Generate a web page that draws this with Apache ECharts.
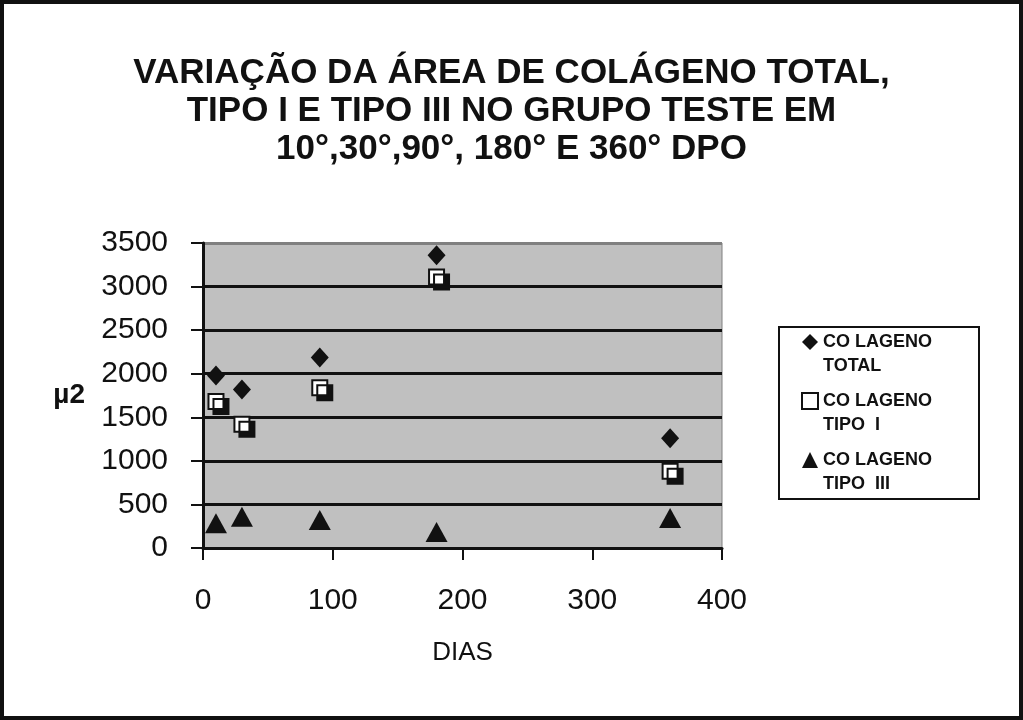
<!DOCTYPE html>
<html>
<head>
<meta charset="utf-8">
<script src="https://cdn.jsdelivr.net/npm/echarts@6/dist/echarts.min.js"></script>
<style>
html,body{margin:0;padding:0;background:#fff;}
#chart{width:1023px;height:720px;}
</style>
</head>
<body>
<div id="chart"></div>
<script>
var titleText = 'VARIAÇÃO DA ÁREA DE COLÁGENO TOTAL,\nTIPO I E TIPO III NO GRUPO TESTE EM\n10°,30°,90°, 180° E 360° DPO';
var seriesNames = ['CO LAGENO\nTOTAL', 'CO LAGENO\nTIPO  I', 'CO LAGENO\nTIPO  III'];
var dias = [10, 30, 90, 180, 360];
var colagenoTotal = [1980, 1820, 2185, 3360, 1260];
var colagenoTipoI = [1680, 1420, 1840, 3110, 880];
var colagenoTipoIII = [285, 360, 320, 185, 345];
var xTicks = [0, 100, 200, 300, 400];
var yTicks = [0, 500, 1000, 1500, 2000, 2500, 3000, 3500];

function pairs(vals){ return dias.map(function(d,i){ return [d, vals[i]]; }); }

var chart = echarts.init(document.getElementById('chart'));
var FONT = 'Liberation Sans, Arial, sans-serif';
chart.setOption({
  backgroundColor: '#ffffff',
  animation: false,
  title: {
    text: titleText,
    left: 'center',
    top: 49,
    textStyle: {fontFamily: FONT, fontWeight: 'bold', fontSize: 35, lineHeight: 38, color: '#111'}
  },
  graphic: [{
    type: 'rect', silent: true, z: 100,
    shape: {x: 2, y: 2, width: 1019, height: 716},
    style: {fill: null, stroke: '#111', lineWidth: 4}
  }, {
    type: 'rect', silent: true, z: 0,
    shape: {x: 779, y: 327, width: 200, height: 172},
    style: {fill: '#fff', stroke: '#111', lineWidth: 2}
  }],
  legend: {
    orient: 'vertical',
    left: 801, top: 309,
    padding: 0,
    itemWidth: 16, itemHeight: 16,
    itemGap: -7,
    formatter: function(name){
      var parts = name.split('\n');
      return '{s| }\n{a|' + parts[0] + '}\n{a|' + parts[1] + '}';
    },
    textStyle: {fontFamily: FONT, fontWeight: 'bold', fontSize: 18, color: '#111',
      rich: {s: {fontSize: 18, lineHeight: 24}, a: {fontFamily: FONT, fontWeight: 'bold', fontSize: 18, lineHeight: 24, color: '#111'}}},
    data: seriesNames
  },
  grid: {left: 203, right: 301, top: 243, bottom: 172, show: true, backgroundColor: '#c0c0c0', borderColor: '#808080', borderWidth: 1},
  xAxis: {
    type: 'value', min: 0, max: 400, interval: 100,
    name: 'DIAS', nameLocation: 'middle', nameGap: 92,
    nameTextStyle: {fontFamily: FONT, fontSize: 26, color: '#111'},
    axisLine: {show: true, onZero: false, lineStyle: {color: '#111', width: 3}},
    axisTick: {show: true, length: 12, lineStyle: {color: '#111', width: 2}},
    axisLabel: {fontFamily: FONT, fontSize: 30, color: '#111', margin: 38},
    splitLine: {show: false}
  },
  yAxis: {
    type: 'value', min: 0, max: 3500, interval: 500,
    name: 'µ2', nameLocation: 'middle', nameGap: 118, nameRotate: 0,
    nameTextStyle: {fontFamily: FONT, fontSize: 28, fontWeight: 'bold', color: '#111', padding: [16, 0, 0, 0]},
    axisLine: {show: true, lineStyle: {color: '#111', width: 3}},
    axisTick: {show: true, length: 12, lineStyle: {color: '#111', width: 2}},
    axisLabel: {fontFamily: FONT, fontSize: 30, color: '#111', margin: 35, formatter: function(v){ return String(v); }},
    splitLine: {show: true, lineStyle: {color: ['#111','#111','#111','#111','#111','#111','#111','#808080'], width: 3}}
  },
  series: [
    {name: seriesNames[0], type: 'scatter', symbol: 'diamond', symbolSize: [18, 20], data: pairs(colagenoTotal),
     itemStyle: {color: '#111', opacity: 1}},
    {name: seriesNames[1], type: 'scatter', symbol: 'rect', symbolSize: 15, data: pairs(colagenoTipoI),
     itemStyle: {color: '#fff', opacity: 1, borderColor: '#111', borderWidth: 2, shadowColor: '#111', shadowOffsetX: 5, shadowOffsetY: 5, shadowBlur: 0.1}},
    {name: seriesNames[2], type: 'scatter', symbol: 'triangle', symbolSize: [22, 20], data: pairs(colagenoTipoIII),
     itemStyle: {color: '#111', opacity: 1}}
  ]
});
</script>
</body>
</html>
